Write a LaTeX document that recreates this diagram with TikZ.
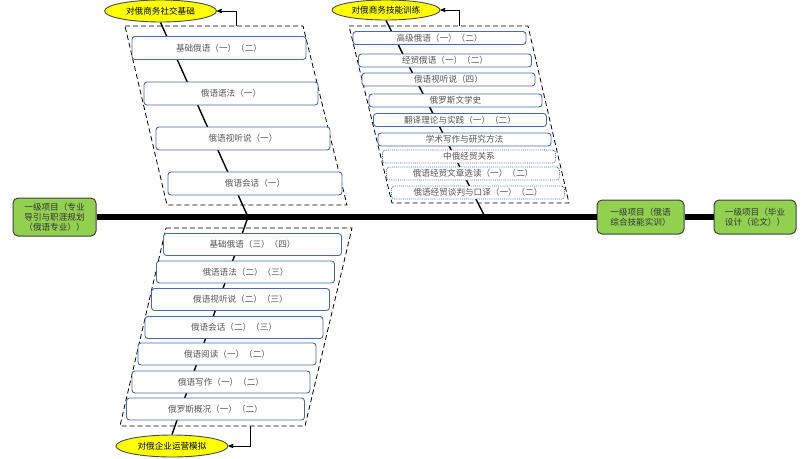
\documentclass[tikz,border=0pt]{standalone}
\usepackage{fontspec}
\setmainfont{Noto Sans CJK SC}
\usetikzlibrary{arrows,shapes.geometric,backgrounds,positioning}
\definecolor{boxblue}{HTML}{4A6AA5}
\definecolor{textgray}{HTML}{555555}
\definecolor{goalyellow}{HTML}{FFFF00}
\definecolor{projgreen}{HTML}{92D050}

\begin{document}
\begin{tikzpicture}[x=1pt, y=-1pt, >=stealth', semithick, font=\fontsize{8.6}{10}\selectfont]
\tikzstyle{course}=[draw=boxblue, line width=0.9pt, fill=white, rounded corners=3pt, text=textgray, minimum width=174pt, minimum height=23pt, inner sep=1pt]
\tikzstyle{basic}=[course, minimum width=178pt, minimum height=22pt]
\tikzstyle{skill}=[course, minimum width=173pt, minimum height=13pt]
\tikzstyle{elective}=[skill, densely dotted]
\tikzstyle{goal}=[ellipse, draw=black!70, line width=0.9pt, fill=goalyellow, minimum width=112pt, minimum height=22pt, inner sep=0pt]
\tikzstyle{project}=[draw=black!75, fill=projgreen, rounded corners=5pt, line width=1pt, text=black!80, align=center, minimum width=84pt, minimum height=34pt, inner sep=1pt]
\tikzstyle{frame}=[draw=black, dash pattern=on 5pt off 3pt, line width=0.8pt]
\tikzstyle{spine}=[draw=black, line width=1.4pt]

\useasboundingbox (0,0) rectangle (811,458);

\node[goal]    (G1) at (160.5,11)  {对俄商务社交基础};
\node[goal, minimum width=108pt, minimum height=20pt]    (G2) at (386,10)  {对俄商务技能训练};
\node[goal]    (G3) at (172,446)  {对俄企业运营模拟};

\node[project, minimum width=83pt, minimum height=38pt]  (P1) at (54.5,217) {一级项目（专业\\导引与职涯规划\\（俄语专业））};
\node[project, minimum width=87pt]  (P2) at (640.5,217) {一级项目（俄语\\综合技能实训）};
\node[project, minimum width=82pt]  (P3)[right=29pt of P2] {一级项目（毕业\\设计（论文））};

\node[course]  (L1) at (219,48)    {基础俄语（一）（二）};
\node[course]  (L2) at (231,93.5)  {俄语语法（一）};
\node[course]  (L3) at (243,138.5) {俄语视听说（一）};
\node[course]  (L4) at (255,183.5) {俄语会话（一）};

\node[basic]   (B1) at (252.5,244.5) {基础俄语（三）（四）};
\node[basic]   (B2) at (245.5,272)   {俄语语法（二）（三）};
\node[basic]   (B3) at (240.5,299.5) {俄语视听说（二）（三）};
\node[basic]   (B4) at (234,327.5)   {俄语会话（二）（三）};
\node[basic]   (B5) at (227,354)     {俄语阅读（一）（二）};
\node[basic]   (B6) at (221,382)     {俄语写作（一）（二）};
\node[basic]   (B7) at (215.5,409)   {俄罗斯概况（一）（二）};

\node[skill]    (R1) at (439.5,38)  {高级俄语（一）（二）};
\node[skill]    (R2) at (445,60.5)  {经贸俄语（一）（二）};
\node[skill]    (R3) at (448.5,79.5) {俄语视听说（四）};
\node[skill]    (R4) at (455.5,100.5) {俄罗斯文学史};
\node[skill]    (R5) at (460,120)   {翻译理论与实践（一）（二）};
\node[skill]    (R6) at (464.5,139.5) {学术写作与研究方法};
\node[elective] (R7) at (469,156.5) {中俄经贸关系};
\node[elective] (R8) at (473,173.5) {俄语经贸文章选读（一）（二）};
\node[elective] (R9) at (478,192.5) {俄语经贸谈判与口译（一）（二）};

\coordinate (J1) at (248,217);
\coordinate (J2) at (485,217);
\coordinate (T1) at (236,26);
\coordinate (T2) at (459,26);
\coordinate (T3) at (250,426);

\begin{scope}[on background layer]
\draw[frame] (125,26) -- (303,26) -- (347,205) -- (167,205) -- cycle;
\draw[frame] (166,228) -- (352,228) -- (305,426) -- (120,426) -- cycle;
\draw[frame] (349,26) -- (528,26) -- (569,203) -- (392,203) -- cycle;
\path[spine] (G1.south) -- (J1) -- (G3.north);
\path[spine] (G2.south) -- (J2);
\end{scope}

\draw[line width=5.5pt] (P1.east) -- (P2.west) (P2.east) -- (P3.west);

\path[->, thick]
(T1) edge[to path={|- (\tikztotarget)}]  (G1.east)
(T2) edge[to path={|- (\tikztotarget)}]  (G2.east)
(T3) edge[to path={|- (\tikztotarget)}]  (G3.east);
\end{tikzpicture}
\end{document}
